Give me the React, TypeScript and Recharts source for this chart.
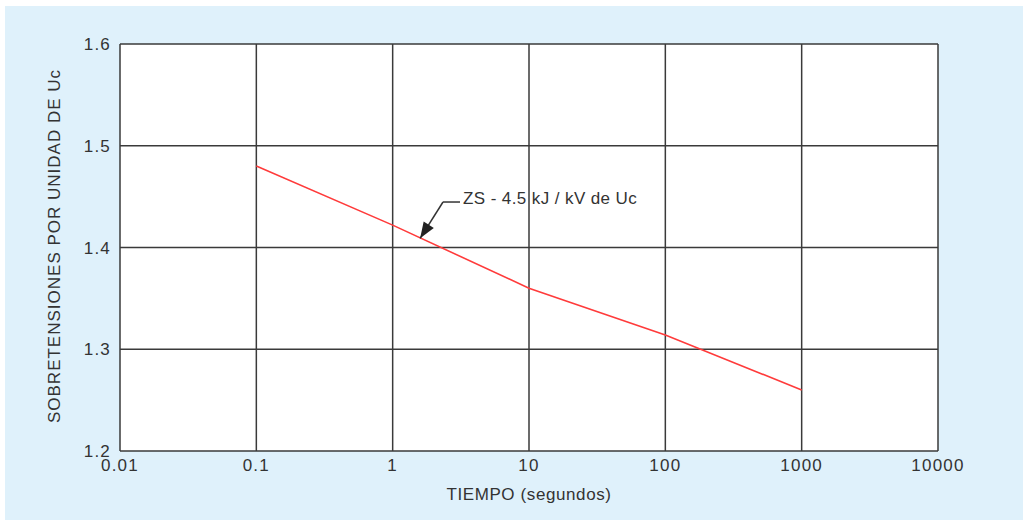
import React from 'react';
import { LineChart, Line, XAxis, YAxis, CartesianGrid, ReferenceLine, ReferenceDot, Label } from 'recharts';

// tiempo (s) y sobretensión por unidad de Uc
const times = [0.1, 1, 10, 100, 1000];
const overvoltage = [1.48, 1.422, 1.36, 1.314, 1.26];

const xTicks = [0.01, 0.1, 1, 10, 100, 1000, 10000];
const yTicks = [1.2, 1.3, 1.4, 1.5, 1.6];

const annotationText = 'ZS - 4.5 kJ / kV de Uc';
const arrowTip = { x: 1.59, y: 1.409 };
const arrowElbow = { x: 2.34, y: 1.4447 };
const leaderEnd = { x: 3.12, y: 1.4447 };

const FONT = '"Liberation Sans", Arial, sans-serif';
const TEXT = '#333';
const GRID = '#3a3a3a';

const chartData = times.map((t, i) => ({ t, v: overvoltage[i] }));

const ArrowHead = ({ cx, cy }: any) => {
  // direction of the leader, elbow -> tip (pixels)
  const dx = -0.539;
  const dy = 0.843;
  const len = 16;
  const half = 6;
  const bx = cx - dx * len;
  const by = cy - dy * len;
  const pts = `${cx},${cy} ${bx + dy * half},${by - dx * half} ${bx - dy * half},${by + dx * half}`;
  return <polygon points={pts} fill="#222" />;
};

const AnnotationText = ({ cx, cy }: any) => (
  <text
    x={cx + 3}
    y={cy - 4}
    dominantBaseline="central"
    fontFamily={FONT}
    fontSize={17}
    letterSpacing={0.4}
    fill={TEXT}
  >
    {annotationText}
  </text>
);

const App: React.FC = () => {
  return (
    <div style={{ position: 'absolute', left: 0, top: 0, width: 1023, height: 520, background: '#fff' }}>
      <div style={{ position: 'absolute', left: 5, top: 6, width: 1018, height: 514, background: '#dff1fb' }}>
        <LineChart width={1018} height={514} data={chartData} margin={{ top: 38, right: 85, left: 0, bottom: 0 }}>
          <CartesianGrid stroke={GRID} strokeWidth={1.5} fill="#fff" />
          <XAxis
            dataKey="t"
            type="number"
            scale="log"
            domain={[0.01, 10000]}
            ticks={xTicks}
            allowDataOverflow
            height={69}
            axisLine={false}
            tickLine={false}
            tickSize={0}
            tickMargin={8}
            tickFormatter={(v: number) => String(v)}
            tick={{ fill: TEXT, fontSize: 17, fontFamily: FONT, letterSpacing: 1.2 }}
          >
            <Label
              content={({ viewBox }: any) => (
                <text
                  x={viewBox.x + viewBox.width / 2}
                  y={viewBox.y + 43}
                  textAnchor="middle"
                  dominantBaseline="central"
                  fontFamily={FONT}
                  fontSize={17}
                  letterSpacing={0.6}
                  fill={TEXT}
                >
                  TIEMPO (segundos)
                </text>
              )}
            />
          </XAxis>
          <YAxis
            type="number"
            domain={[1.2, 1.6]}
            ticks={yTicks}
            width={115}
            axisLine={false}
            tickLine={false}
            tickSize={0}
            tickMargin={9}
            tickFormatter={(v: number) => v.toFixed(1)}
            tick={{ fill: TEXT, fontSize: 17, fontFamily: FONT, letterSpacing: 1.2 }}
          >
            <Label
              content={() => (
                <text
                  x={49}
                  y={240}
                  transform="rotate(-90, 49, 240)"
                  textAnchor="middle"
                  dominantBaseline="central"
                  fontFamily={FONT}
                  fontSize={17}
                  letterSpacing={1}
                  fill={TEXT}
                >
                  SOBRETENSIONES POR UNIDAD DE Uc
                </text>
              )}
            />
          </YAxis>
          <Line
            type="linear"
            dataKey="v"
            stroke="#ff3b3b"
            strokeWidth={1.6}
            dot={false}
            activeDot={false}
            isAnimationActive={false}
          />
          <ReferenceLine segment={[arrowElbow, leaderEnd]} stroke="#333" strokeWidth={1.5} ifOverflow="visible" />
          <ReferenceLine segment={[arrowElbow, arrowTip]} stroke="#333" strokeWidth={1.5} ifOverflow="visible" />
          <ReferenceDot x={arrowTip.x} y={arrowTip.y} ifOverflow="visible" shape={<ArrowHead />} />
          <ReferenceDot x={leaderEnd.x} y={leaderEnd.y} ifOverflow="visible" shape={<AnnotationText />} />
        </LineChart>
      </div>
    </div>
  );
};

export default App;
